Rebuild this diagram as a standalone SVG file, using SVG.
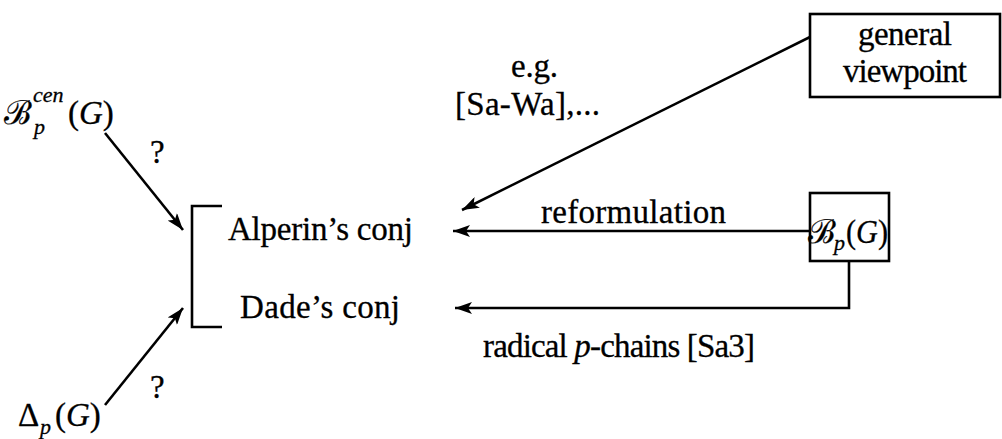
<svg xmlns="http://www.w3.org/2000/svg" width="1002" height="439" viewBox="0 0 1002 439">
<style>
  .t { font-family: "Liberation Serif", "DejaVu Serif", serif; font-size: 33px; fill: #000; stroke: #000; stroke-width: 0.3; }
  .i { font-style: italic; }
  .s { font-size: 22px; font-style: italic; }
  .ln { stroke: #000; stroke-width: 2.6; fill: none; }
  .box { stroke: #000; stroke-width: 2.6; fill: #fff; }
</style>
<defs>
  <marker id="ah" markerUnits="userSpaceOnUse" markerWidth="18" markerHeight="12" viewBox="0 0 18 12" refX="17" refY="6" orient="auto">
    <path d="M0,0 L17,6 L0,12 L4,6 z" fill="#000"/>
  </marker>
</defs>
<g id="connectors">
  <line class="ln" x1="105" y1="133" x2="183" y2="230" marker-end="url(#ah)"/>
  <line class="ln" x1="105" y1="405" x2="183" y2="308" marker-end="url(#ah)"/>
  <line class="ln" x1="810" y1="37" x2="462" y2="210" marker-end="url(#ah)"/>
  <line class="ln" x1="810" y1="231" x2="453" y2="231" marker-end="url(#ah)"/>
  <polyline class="ln" points="849,261 849,308 455,308" marker-end="url(#ah)"/>
  <text class="t" x="150" y="163">?</text>
  <text class="t" x="150" y="398">?</text>
  <text class="t" x="511" y="77" textLength="47">e.g.</text>
  <text class="t" x="455" y="115" textLength="145">[Sa-Wa],...</text>
  <text class="t" x="541" y="223" textLength="185">reformulation</text>
  <text class="t" x="483" y="357" textLength="272">radical <tspan class="i">p</tspan>-chains [Sa3]</text>
</g>
<g id="bcen">
  <text class="t" x="4" y="124">ℬ</text>
  <text class="t s" x="34" y="134">p</text>
  <text class="t s" x="33" y="102">cen</text>
  <text class="t" x="68" y="124">(<tspan class="i">G</tspan>)</text>
</g>
<g id="delta">
  <text class="t" x="18" y="426">Δ</text>
  <text class="t s" x="40" y="434">p</text>
  <text class="t" x="55" y="426">(<tspan class="i">G</tspan>)</text>
</g>
<g id="conj">
  <path class="ln" d="M222,206 H192 V327 H222"/>
  <text class="t" x="228" y="240" textLength="185">Alperin’s conj</text>
  <text class="t" x="240" y="318" textLength="160">Dade’s conj</text>
</g>
<g id="general">
  <rect class="box" x="810" y="14" width="190" height="83"/>
  <text class="t" x="858" y="45" textLength="94">general</text>
  <text class="t" x="843" y="82" textLength="124">viewpoint</text>
</g>
<g id="bp">
  <rect class="box" x="810" y="193" width="79" height="68"/>
  <text class="t" x="808" y="243">ℬ</text>
  <text class="t s" x="834" y="250">p</text>
  <text class="t" x="846" y="243" textLength="42" lengthAdjust="spacingAndGlyphs">(<tspan class="i">G</tspan>)</text>
</g>
</svg>
